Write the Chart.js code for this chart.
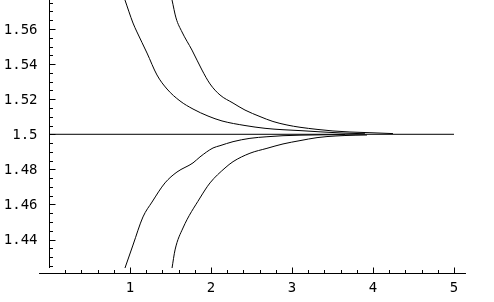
<!DOCTYPE html>
<html>
<head>
<meta charset="utf-8">
<script src="https://cdn.jsdelivr.net/npm/chart.js@4/dist/chart.umd.min.js"></script>
<style>
  html, body { margin: 0; padding: 0; background: #ffffff; }
  #wrap { width: 494px; height: 302px; position: relative; }
  canvas { display: block; }
</style>
</head>
<body>
<div id="wrap"><canvas id="c" width="494" height="302"></canvas></div>
<script>
// ---- data ----
const upperAX = [0.938, 1.037, 1.086, 1.210, 1.333, 1.457, 1.617, 1.778, 1.963, 2.136, 2.420, 2.667, 2.889, 3.099, 3.346, 3.630, 3.901];
const upperAY = [1.5765, 1.5634, 1.5583, 1.5463, 1.5338, 1.5258, 1.5190, 1.5144, 1.5104, 1.5076, 1.5050, 1.5034, 1.5026, 1.5021, 1.5014, 1.5007, 1.5003];

const upperBX = [1.519, 1.568, 1.642, 1.765, 1.889, 1.988, 2.111, 2.272, 2.420, 2.605, 2.765, 2.938, 3.099, 3.309, 3.506, 3.716, 3.963, 4.247];
const upperBY = [1.5765, 1.5663, 1.5583, 1.5480, 1.5366, 1.5287, 1.5224, 1.5178, 1.5138, 1.5101, 1.5073, 1.5053, 1.5040, 1.5028, 1.5019, 1.5013, 1.5009, 1.5004];

const lowerAX = [0.938, 1.037, 1.160, 1.272, 1.432, 1.580, 1.778, 1.864, 2.025, 2.111, 2.272, 2.481, 2.691, 2.889, 3.099, 3.383, 3.654];
const lowerAY = [1.4238, 1.4369, 1.4529, 1.4614, 1.4723, 1.4785, 1.4837, 1.4871, 1.4922, 1.4935, 1.4958, 1.4977, 1.4986, 1.4992, 1.4995, 1.4997, 1.4998];

const lowerBX = [1.519, 1.556, 1.654, 1.864, 1.988, 2.173, 2.272, 2.481, 2.691, 2.889, 3.099, 3.309, 3.432, 3.654, 3.926];
const lowerBY = [1.4238, 1.4341, 1.4466, 1.4637, 1.4723, 1.4808, 1.4844, 1.4892, 1.4920, 1.4945, 1.4964, 1.4981, 1.4987, 1.4993, 1.4996];

const refLineX = [0, 5];
const refLineY = [1.5, 1.5];

const xTickValues = [1, 2, 3, 4, 5];
const xTickLabels = ['1', '2', '3', '4', '5'];
const yTickValues = [1.44, 1.46, 1.48, 1.5, 1.52, 1.54, 1.56];
const yTickLabels = ['1.44', '1.46', '1.48', '1.5', '1.52', '1.54', '1.56'];

// axis extents (data units)
const yAxisTop = 1.5765, yAxisBottom = 1.4238;
const xAxisLeft = -0.123, xAxisRight = 5.148, xAxisAt = 1.4207;

const toPts = (xs, ys) => xs.map((x, i) => ({ x: x, y: ys[i] }));

const lineStyle = {
  showLine: true, pointRadius: 0, borderColor: '#000000', borderWidth: 1,
  fill: false, cubicInterpolationMode: 'monotone'
};

const axesPlugin = {
  id: 'mmaAxes',
  beforeDatasetsDraw(chart) {
    const ctx = chart.ctx;
    const xs = chart.scales.x, ys = chart.scales.y;
    const px = v => xs.getPixelForValue(v);
    const py = v => ys.getPixelForValue(v);
    ctx.save();
    ctx.strokeStyle = '#000000';
    ctx.fillStyle = '#000000';
    ctx.lineWidth = 1;
    // y axis
    const ax = Math.round(px(0)) + 0.5;
    ctx.beginPath();
    ctx.moveTo(ax, py(yAxisTop) - 1);
    ctx.lineTo(ax, py(yAxisBottom));
    ctx.stroke();
    // y ticks (major every 0.02, minor every 0.005)
    for (let k = 1425; k <= 1575; k += 5) {
      const v = k / 1000;
      const yy = Math.round(py(v)) + 0.5;
      const major = (k % 20) === 0;
      ctx.beginPath();
      ctx.moveTo(ax, yy);
      ctx.lineTo(ax + (major ? 6 : 3.5), yy);
      ctx.stroke();
    }
    // x axis
    const ay = Math.round(py(xAxisAt)) + 0.5;
    ctx.beginPath();
    ctx.moveTo(px(xAxisLeft), ay);
    ctx.lineTo(px(xAxisRight), ay);
    ctx.stroke();
    for (let k = 1; k <= 25; k++) {
      const v = k / 5;
      const xx = Math.round(px(v)) + 0.5;
      const major = (k % 5) === 0;
      ctx.beginPath();
      ctx.moveTo(xx, ay);
      ctx.lineTo(xx, ay - (major ? 6 : 3.5));
      ctx.stroke();
    }
    // labels
    ctx.font = '14px "DejaVu Sans Mono"';
    ctx.textAlign = 'right';
    ctx.textBaseline = 'middle';
    yTickValues.forEach((v, i) => {
      ctx.fillText(yTickLabels[i], ax - 12, py(v) + 1);
    });
    ctx.textAlign = 'center';
    ctx.textBaseline = 'middle';
    xTickValues.forEach((v, i) => {
      ctx.fillText(xTickLabels[i], px(v), ay + 15);
    });
    ctx.restore();
  }
};

new Chart(document.getElementById('c'), {
  type: 'scatter',
  data: {
    datasets: [
      Object.assign({ label: 'ref', data: toPts(refLineX, refLineY) }, lineStyle, { cubicInterpolationMode: 'default' }),
      Object.assign({ label: 'upperA', data: toPts(upperAX, upperAY) }, lineStyle),
      Object.assign({ label: 'upperB', data: toPts(upperBX, upperBY) }, lineStyle),
      Object.assign({ label: 'lowerA', data: toPts(lowerAX, lowerAY) }, lineStyle),
      Object.assign({ label: 'lowerB', data: toPts(lowerBX, lowerBY) }, lineStyle)
    ]
  },
  options: {
    responsive: false,
    animation: false,
    devicePixelRatio: 1,
    layout: { padding: 0 },
    plugins: { legend: { display: false }, tooltip: { enabled: false } },
    scales: {
      x: { type: 'linear', min: -0.605, max: 5.494, display: false },
      y: { type: 'linear', min: 1.40444, max: 1.57652, display: false }
    }
  },
  plugins: [axesPlugin]
});
</script>
</body>
</html>
